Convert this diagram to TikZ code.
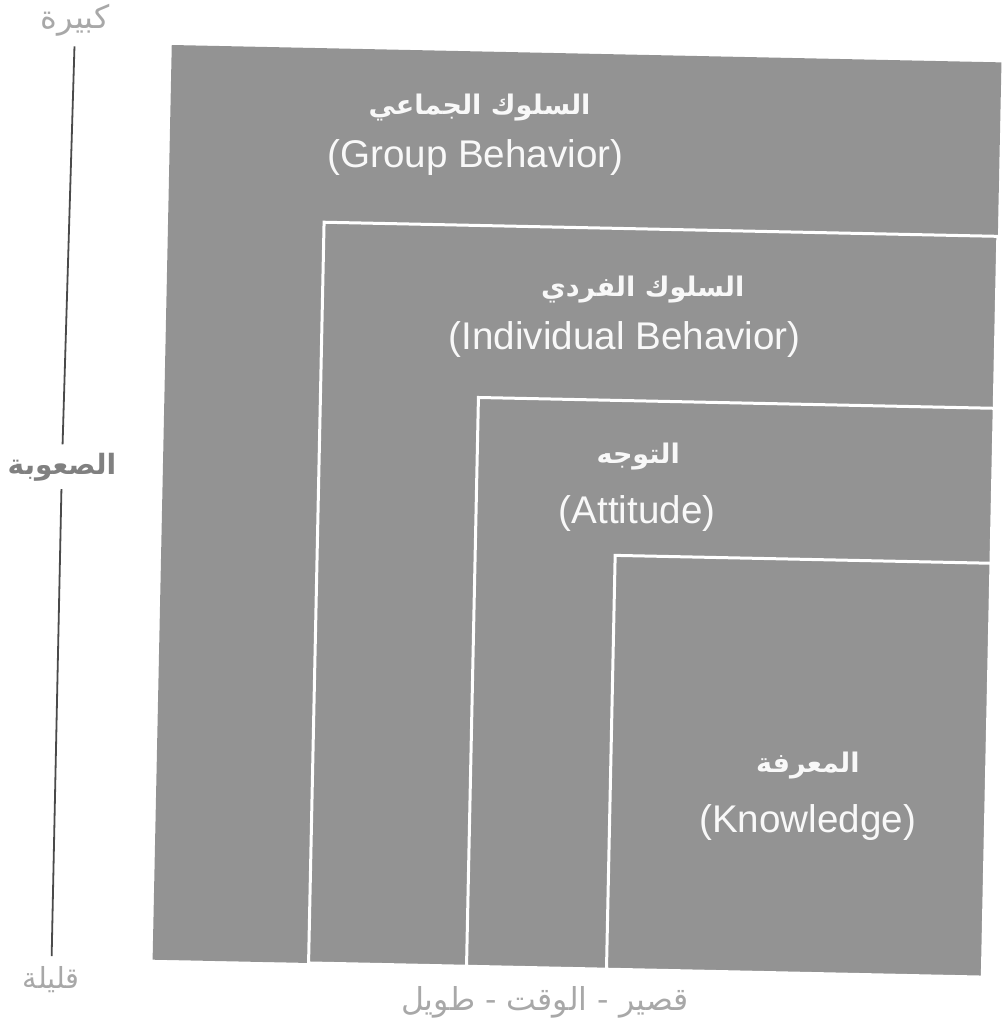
\documentclass[tikz,border=0pt]{standalone}
\usepackage{fontspec}
\setmainfont{Liberation Sans}
\newfontfamily\arabicfont[Script=Arabic]{DejaVu Sans}
\TeXXeTstate=1
\usetikzlibrary{positioning}
\definecolor{panelgray}{HTML}{939393}
\definecolor{axisgray}{HTML}{A8A8A8}
\definecolor{axisdark}{HTML}{808080}
\definecolor{linegray}{HTML}{4A4A4A}
\definecolor{labelwhite}{HTML}{F8F8F8}
\newcommand{\artext}[1]{{\arabicfont\beginR #1\endR}}

\begin{document}
\begin{tikzpicture}[
  x=0.5pt, y=-0.5pt,
  every node/.style={inner sep=0pt},
  panel/.style={fill=panelgray},
  innerpanel/.style={fill=panelgray, draw=white, line width=1.5pt},
  artitle/.style={font=\bfseries\fontsize{13.5}{16}\selectfont, text=labelwhite},
  entitle/.style={font=\fontsize{19.3}{23}\selectfont, text=labelwhite},
  axislabel/.style={font=\fontsize{15}{17}\selectfont, text=axisgray},
  axisline/.style={draw=linegray, line width=0.9pt}
]
\useasboundingbox (0,0) rectangle (1004,1028);

% scanned page is turned a little
\begin{scope}[rotate around={-1.2:(502,514)}]

% === NESTED PANELS ===
\coordinate (corner) at (992,967);
\fill[panel] (162,52) rectangle (corner);
\filldraw[innerpanel] (318,226) rectangle (corner);
\filldraw[innerpanel] (476,398) rectangle (corner);
\filldraw[innerpanel] (616,553) rectangle (corner);

% Panel titles
\node[artitle] (groupar) at (471,108) {\artext{السلوك الجماعي}};
\node[entitle] (groupen) at (468,158) {(Group Behavior)};
\node[artitle] (indivar) at (638,287) {\artext{السلوك الفردي}};
\node[entitle] (indiven) at (621,337) {(Individual Behavior)};
\node[artitle] (attar) at (637,454) {\artext{التوجه}};
\node[entitle] (atten) at (637,511) {(Attitude)};
\node[artitle] (knowar) at (813,759) {\artext{المعرفة}};
\node[entitle] (knowen) at (814,816) {(Knowledge)};

% === AXES ===
\node[axislabel, font=\fontsize{16}{18}\selectfont] (big) at (65,29) {\artext{كبيرة}};
\node[axislabel, font=\bfseries\fontsize{14}{16}\selectfont, text=axisdark] (diff) at (61,476) {\artext{الصعوبة}};
\node[axislabel, font=\fontsize{14.5}{17}\selectfont] (small) at (61,989) {\artext{قليلة}};
\node[axislabel, font=\fontsize{15.8}{18}\selectfont] (time) at (555,1001) {\artext{قصير - الوقت - طويل}};

\draw[axisline, shorten <=5pt, shorten >=4pt] (big) -- (diff);
\draw[axisline, shorten <=4pt, shorten >=5pt] (diff) -- (small);

\end{scope}
\end{tikzpicture}
\end{document}
